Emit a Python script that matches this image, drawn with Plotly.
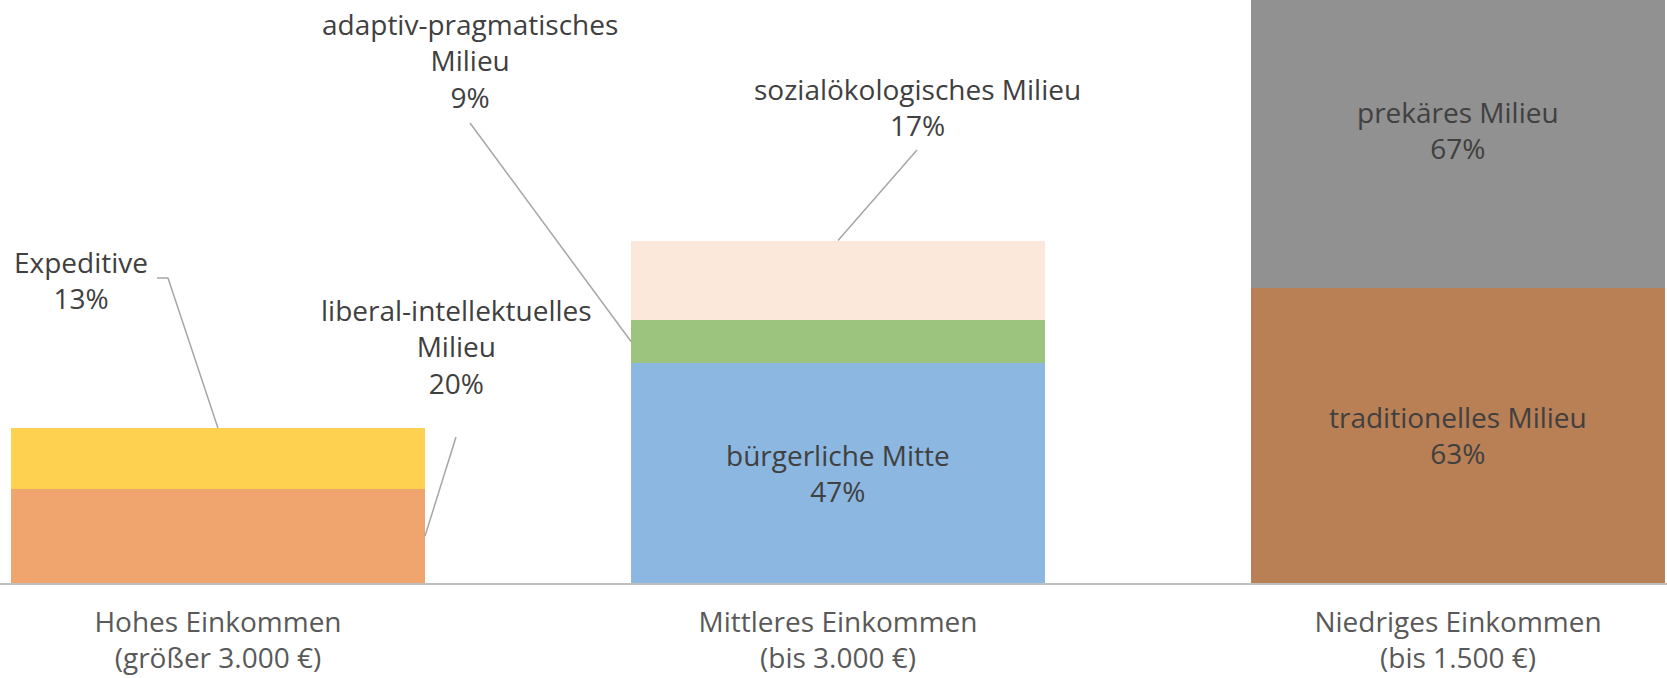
import plotly.graph_objects as go

# ---------------- data ----------------
categories = ["Hohes Einkommen<br>(größer 3.000 €)",
              "Mittleres Einkommen<br>(bis 3.000 €)",
              "Niedriges Einkommen<br>(bis 1.500 €)"]
seg_names = ["liberal-intellektuelles Milieu", "Expeditive",
             "bürgerliche Mitte", "adaptiv-pragmatisches Milieu", "sozialökologisches Milieu",
             "traditionelles Milieu", "prekäres Milieu"]
seg_category = [0, 0, 1, 1, 1, 2, 2]
seg_values = [20, 13, 47, 9, 17, 63, 67]
seg_colors = ["#F0A46E", "#FED250", "#8CB7E0", "#9CC47E", "#FBE8DA", "#B97F55", "#919191"]
# label texts (outside labels use line breaks)
seg_labels = ["liberal-intellektuelles<br>Milieu<br>20%", "Expeditive<br>13%",
              "bürgerliche Mitte<br>47%", "adaptiv-pragmatisches<br>Milieu<br>9%",
              "sozialökologisches Milieu<br>17%",
              "traditionelles Milieu<br>63%", "prekäres Milieu<br>67%"]
label_inside = [False, False, True, False, False, True, True]

# ---------------- layout constants ----------------
W, H = 1667, 678
BOTTOM = 95
PLOT_H = H - BOTTOM
X_RANGE = [-0.3516, 2.337]
Y_RANGE = [0, 124.3]
BAR_W = 0.6677
FONT = "Open Sans"
TXT = "#404040"
LEAD = "#A6A6A6"

# positions of the callout labels (pixel centres)
callout_pos = {1: (81, 280), 0: (456, 346), 3: (470, 60), 4: (917, 107)}
# leader line start points (pixels)
leader_start = {1: [(157, 278), (168, 278)], 0: [(456, 437)], 3: [(470, 123)], 4: [(917, 150)]}


def px2x(px):
    return X_RANGE[0] + (X_RANGE[1] - X_RANGE[0]) * px / W


def py2y(py):
    return Y_RANGE[1] - (Y_RANGE[1] - Y_RANGE[0]) * py / PLOT_H


fig = go.Figure()
bases = [0.0, 0.0, 0.0]
seg_base = []
for name, c, v, col in zip(seg_names, seg_category, seg_values, seg_colors):
    seg_base.append(bases[c])
    bases[c] += v
    fig.add_trace(go.Bar(x=[c], y=[v], name=name, marker=dict(color=col, line=dict(width=0)),
                         width=BAR_W, showlegend=False, hoverinfo="skip"))

annotations = []
shapes = []
for i, (c, v, lab) in enumerate(zip(seg_category, seg_values, seg_labels)):
    if label_inside[i]:
        annotations.append(dict(x=c, y=seg_base[i] + v / 2, xref="x", yref="y", text=lab,
                                showarrow=False, font=dict(family=FONT, size=28, color=TXT),
                                xanchor="center", yanchor="middle"))
    else:
        px, py = callout_pos[i]
        annotations.append(dict(x=px2x(px), y=py2y(py), xref="x", yref="y", text=lab,
                                showarrow=False, font=dict(family=FONT, size=28, color=TXT),
                                xanchor="center", yanchor="middle"))
        # leader end point on the bar, derived from data
        if i == 1:      # Expeditive -> top of segment, centre
            ex, ey = c, seg_base[i] + v
        elif i == 0:    # liberal -> right edge, middle
            ex, ey = c + BAR_W / 2, seg_base[i] + v / 2
        elif i == 3:    # adaptiv -> left edge, middle
            ex, ey = c - BAR_W / 2, seg_base[i] + v / 2
        else:           # sozial -> top, centre
            ex, ey = c, seg_base[i] + v
        pts = [(px2x(a), py2y(b)) for a, b in leader_start[i]] + [(ex, ey)]
        path = "M " + " L ".join(f"{a},{b}" for a, b in pts)
        shapes.append(dict(type="path", path=path, xref="x", yref="y",
                           line=dict(color=LEAD, width=1.5)))

fig.update_layout(
    width=W, height=H,
    margin=dict(l=0, r=0, t=0, b=BOTTOM, pad=0, autoexpand=False),
    barmode="stack",
    plot_bgcolor="white", paper_bgcolor="white",
    annotations=annotations, shapes=shapes,
    xaxis=dict(range=X_RANGE, tickvals=[0, 1, 2], ticktext=categories, automargin=False,
               showline=True, linecolor="#BFBFBF", linewidth=2, showgrid=False,
               zeroline=False, ticks="", ticklabelstandoff=13,
               tickfont=dict(family=FONT, size=28, color="#595959"), fixedrange=True),
    yaxis=dict(range=Y_RANGE, visible=False, showgrid=False, zeroline=False, fixedrange=True,
               automargin=False),
)

fig.write_html("out.html", config={"displayModeBar": False, "staticPlot": True},
               post_script="document.body.style.margin='0';document.body.style.overflow='hidden';")
